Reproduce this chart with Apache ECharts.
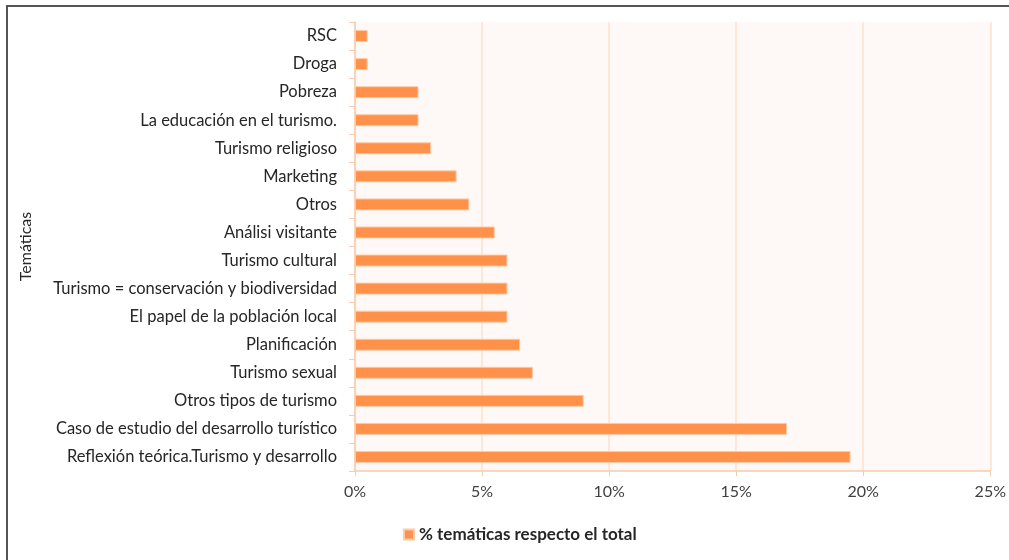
<!DOCTYPE html>
<html>
<head>
<meta charset="utf-8">
<script src="https://cdn.jsdelivr.net/npm/echarts@6/dist/echarts.min.js"></script>
<style>
html,body{margin:0;padding:0;background:#fff;}
#chart{width:1009px;height:560px;}
</style>
</head>
<body>
<div id="chart"></div>
<script>
const categories = [
  "RSC",
  "Droga",
  "Pobreza",
  "La educación en el turismo.",
  "Turismo religioso",
  "Marketing",
  "Otros",
  "Análisi visitante",
  "Turismo cultural",
  "Turismo = conservación y biodiversidad",
  "El papel de la población local",
  "Planificación",
  "Turismo sexual",
  "Otros tipos de turismo",
  "Caso de estudio del desarrollo turístico",
  "Reflexión teórica.Turismo y desarrollo"
];
const values = [0.5, 0.5, 2.5, 2.5, 3.0, 4.0, 4.5, 5.5, 6.0, 6.0, 6.0, 6.5, 7.0, 9.0, 17.0, 19.5];
const xTicks = [0, 5, 10, 15, 20, 25];
const seriesName = "% temáticas respecto el total";
const axisName = "Temáticas";

const FONT = "Lato";
const chart = echarts.init(document.getElementById('chart'), null, {renderer: 'canvas'});
chart.setOption({
  animation: false,
  backgroundColor: '#ffffff',
  graphic: [{
    type: 'rect',
    shape: {x: 7, y: 6, width: 1020, height: 570},
    style: {fill: 'none', stroke: '#555555', lineWidth: 2},
    silent: true,
    z: 100
  }],
  grid: {left: 355, right: 16, top: 22, bottom: 89, containLabel: false,
         show: true, backgroundColor: '#FEF9F6', borderWidth: 0},
  legend: {
    data: [seriesName],
    left: 398, top: 521,
    icon: 'rect', itemWidth: 10, itemHeight: 10, itemGap: 4,
    textStyle: {fontFamily: FONT, fontSize: 17, fontWeight: 'bold', color: '#262626'}
  },
  xAxis: {
    type: 'value', min: xTicks[0], max: xTicks[xTicks.length-1], interval: 5,
    axisLine: {show: true, lineStyle: {color: '#F8CBAD', width: 1.5}},
    axisTick: {show: true, length: 5, lineStyle: {color: '#F8CBAD'}},
    splitLine: {show: true, lineStyle: {color: '#FBE1D0', width: 1.5}},
    axisLabel: {formatter: v => v + '%', fontFamily: FONT, fontSize: 16, color: '#404040', margin: 13}
  },
  yAxis: {
    type: 'category', data: categories, inverse: true,
    name: axisName, nameLocation: 'middle', nameGap: 321, nameRotate: 90,
    nameTextStyle: {fontFamily: FONT, fontSize: 16, color: '#262626'},
    axisLine: {show: true, lineStyle: {color: '#F8CBAD', width: 1.5}},
    axisTick: {show: true, length: 6, lineStyle: {color: '#F8CBAD'}},
    axisLabel: {fontFamily: FONT, fontSize: 16.5, color: '#262626', margin: 18}
  },
  series: [{
    name: seriesName, type: 'bar', data: values,
    barWidth: 12,
    itemStyle: {color: '#FF914A', borderColor: '#FBCBA9', borderWidth: 1}
  }]
});
</script>
</body>
</html>
